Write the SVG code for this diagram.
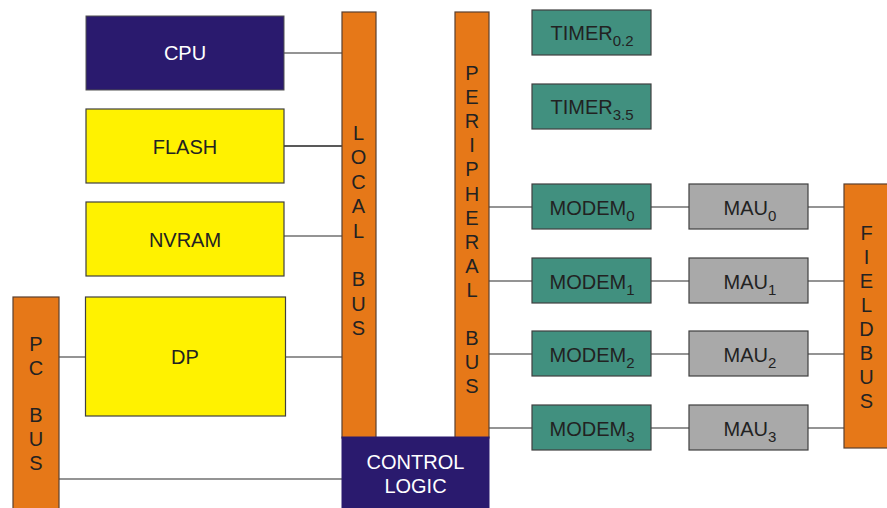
<svg xmlns="http://www.w3.org/2000/svg" width="887" height="508" viewBox="0 0 887 508">
<style>
text{font-family:"Liberation Sans",Arial,sans-serif;font-size:20px;fill:#222;text-anchor:middle}
.w{fill:#fff}
.sub{font-size:15px}
.bus{fill:#e67818;stroke:#5a4030;stroke-width:1.2}
.navy{fill:#2a1a6e;stroke:#2a1a6e;stroke-width:1}
.yel{fill:#fff200;stroke:#404040;stroke-width:1.2}
.teal{fill:#41907f;stroke:#404040;stroke-width:1.2}
.gray{fill:#a9a9a9;stroke:#404040;stroke-width:1.2}
.c line{stroke:#707070;stroke-width:1.5}
</style>
<rect width="887" height="508" fill="#fff"/>
<g class="c" id="connectors">
<line x1="284" y1="53" x2="342" y2="53"/>
<line x1="284" y1="146" x2="342" y2="146" style="stroke:#222"/>
<line x1="284" y1="236" x2="342" y2="236"/>
<line x1="285" y1="357" x2="342" y2="357"/>
<line x1="59" y1="357" x2="86" y2="357"/>
<line x1="59" y1="479" x2="342" y2="479"/>
<line x1="489" y1="207" x2="532" y2="207"/>
<line x1="489" y1="281" x2="532" y2="281"/>
<line x1="489" y1="354" x2="532" y2="354"/>
<line x1="489" y1="428" x2="532" y2="428"/>
<line x1="651" y1="207" x2="689" y2="207"/>
<line x1="651" y1="281" x2="689" y2="281"/>
<line x1="651" y1="354" x2="689" y2="354"/>
<line x1="651" y1="428" x2="689" y2="428"/>
<line x1="808" y1="207" x2="844" y2="207"/>
<line x1="808" y1="281" x2="844" y2="281"/>
<line x1="808" y1="354" x2="844" y2="354"/>
<line x1="808" y1="428" x2="844" y2="428"/>
</g>
<g id="cpu"><rect class="navy" x="86" y="16" width="198" height="74" style="stroke:#505050"/><text class="w" x="185" y="60">CPU</text></g>
<g id="flash"><rect class="yel" x="86" y="109" width="198" height="74"/><text x="185" y="154">FLASH</text></g>
<g id="nvram"><rect class="yel" x="86" y="202" width="198" height="74"/><text x="185" y="247">NVRAM</text></g>
<g id="dp"><rect class="yel" x="85.5" y="297" width="200" height="119"/><text x="185" y="364">DP</text></g>
<g id="pcbus"><rect class="bus" x="13" y="297" width="46" height="220"/>
<text x="36" y="351">P</text><text x="36" y="375">C</text><text x="36" y="422">B</text><text x="36" y="446">U</text><text x="36" y="470">S</text></g>
<g id="localbus"><rect class="bus" x="342" y="12" width="34" height="426"/>
<text x="358.5" y="140">L</text><text x="358.5" y="164.4">O</text><text x="358.5" y="188.8">C</text><text x="358.5" y="213.2">A</text><text x="358.5" y="237.6">L</text><text x="358.5" y="286.4">B</text><text x="358.5" y="310.8">U</text><text x="358.5" y="335.2">S</text></g>
<g id="peripheralbus"><rect class="bus" x="455" y="12" width="34" height="426"/>
<text x="472" y="80">P</text><text x="472" y="104.1">E</text><text x="472" y="128.2">R</text><text x="472" y="152.3">I</text><text x="472" y="176.4">P</text><text x="472" y="200.5">H</text><text x="472" y="224.6">E</text><text x="472" y="248.7">R</text><text x="472" y="272.8">A</text><text x="472" y="296.9">L</text><text x="472" y="345.1">B</text><text x="472" y="369.2">U</text><text x="472" y="393.3">S</text></g>
<g id="controllogic"><rect class="navy" x="342" y="437" width="147" height="80"/><text class="w" x="415.5" y="469">CONTROL</text><text class="w" x="415.5" y="493">LOGIC</text></g>
<g id="timer02"><rect class="teal" x="532" y="10" width="119" height="45"/><text x="592" y="40">TIMER<tspan class="sub" dy="6">0.2</tspan></text></g>
<g id="timer35"><rect class="teal" x="532" y="84" width="119" height="45"/><text x="592" y="114">TIMER<tspan class="sub" dy="6">3.5</tspan></text></g>
<g id="modem0"><rect class="teal" x="532" y="184" width="119" height="45"/><text x="592" y="215">MODEM<tspan class="sub" dy="6">0</tspan></text></g>
<g id="modem1"><rect class="teal" x="532" y="258" width="119" height="45"/><text x="592" y="289">MODEM<tspan class="sub" dy="6">1</tspan></text></g>
<g id="modem2"><rect class="teal" x="532" y="331" width="119" height="45"/><text x="592" y="362">MODEM<tspan class="sub" dy="6">2</tspan></text></g>
<g id="modem3"><rect class="teal" x="532" y="405" width="119" height="45"/><text x="592" y="436">MODEM<tspan class="sub" dy="6">3</tspan></text></g>
<g id="mau0"><rect class="gray" x="689" y="184" width="119" height="45"/><text x="750" y="215">MAU<tspan class="sub" dy="6">0</tspan></text></g>
<g id="mau1"><rect class="gray" x="689" y="258" width="119" height="45"/><text x="750" y="289">MAU<tspan class="sub" dy="6">1</tspan></text></g>
<g id="mau2"><rect class="gray" x="689" y="331" width="119" height="45"/><text x="750" y="362">MAU<tspan class="sub" dy="6">2</tspan></text></g>
<g id="mau3"><rect class="gray" x="689" y="405" width="119" height="45"/><text x="750" y="436">MAU<tspan class="sub" dy="6">3</tspan></text></g>
<g id="fieldbus"><rect class="bus" x="844" y="184" width="60" height="264"/>
<text x="866.5" y="240">F</text><text x="866.5" y="264">I</text><text x="866.5" y="288">E</text><text x="866.5" y="312">L</text><text x="866.5" y="336">D</text><text x="866.5" y="360">B</text><text x="866.5" y="384">U</text><text x="866.5" y="408">S</text></g>
</svg>
